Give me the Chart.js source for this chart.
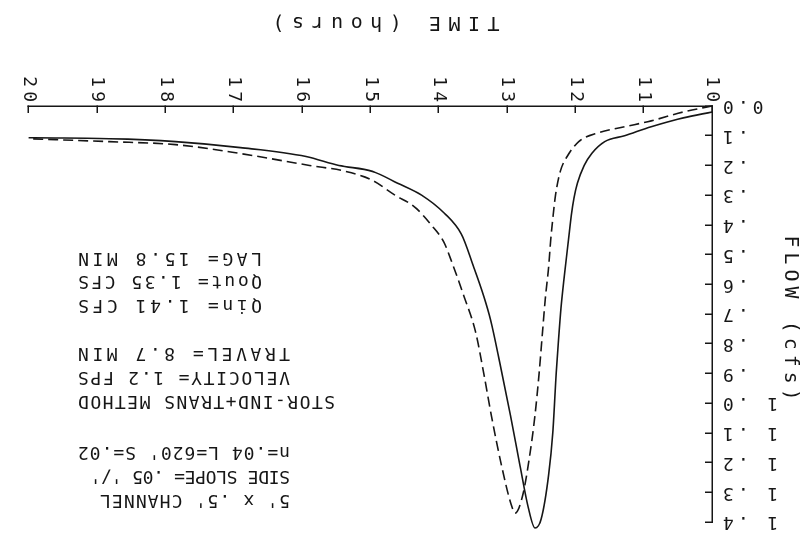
<!DOCTYPE html>
<html>
<head>
<meta charset="utf-8">
<script src="https://cdn.jsdelivr.net/npm/chart.js@4.4.0/dist/chart.umd.min.js"></script>
<style>
  html, body { margin: 0; padding: 0; background: #fff; }
  /* the scanned plot is upside down, so the whole chart is turned over */
  #wrap { width: 809px; height: 540px; transform: rotate(180deg); }
</style>
</head>
<body>
<div id="wrap"><canvas id="hydro"></canvas></div>
<script>
// inflow hydrograph (solid)
const inflowTime = [10.00, 10.42, 10.89, 11.28, 11.57, 11.76, 11.87, 11.97, 12.02, 12.06, 12.10, 12.16,
  12.21, 12.25, 12.28, 12.33, 12.39, 12.50, 12.59, 12.69, 12.81, 12.95, 13.10, 13.24, 13.34, 13.49,
  13.67, 13.92, 14.25, 14.60, 14.97, 15.46, 15.94, 16.90, 17.85, 18.82, 20.00];
const inflowFlow = [0.02, 0.04, 0.07, 0.10, 0.12, 0.16, 0.20, 0.26, 0.31, 0.37, 0.45, 0.57,
  0.68, 0.80, 0.90, 1.10, 1.24, 1.39, 1.42, 1.35, 1.21, 1.04, 0.87, 0.72, 0.64, 0.54,
  0.43, 0.36, 0.30, 0.26, 0.22, 0.20, 0.17, 0.14, 0.12, 0.11, 0.107];

// outflow hydrograph (dashed)
const outflowTime = [10.00, 10.42, 10.89, 11.28, 11.66, 11.95, 12.12, 12.22, 12.29, 12.33, 12.36, 12.39,
  12.44, 12.48, 12.53, 12.59, 12.67, 12.77, 12.88, 12.94, 13.08, 13.23, 13.34, 13.46, 13.63, 13.80,
  13.92, 14.11, 14.35, 14.64, 14.97, 15.36, 15.89, 16.90, 17.85, 18.82, 20.00];
const outflowFlow = [0.00, 0.02, 0.05, 0.07, 0.09, 0.12, 0.17, 0.22, 0.30, 0.38, 0.45, 0.54,
  0.65, 0.76, 0.90, 1.04, 1.18, 1.31, 1.37, 1.34, 1.21, 1.04, 0.90, 0.76, 0.64, 0.53,
  0.46, 0.40, 0.34, 0.30, 0.25, 0.22, 0.20, 0.16, 0.13, 0.12, 0.11];

const timeTicks = ['10', '11', '12', '13', '14', '15', '16', '17', '18', '19', '20'];
const flowTicks = ['0.0', '.1', '.2', '.3', '.4', '.5', '.6', '.7', '.8', '.9',
  '1 .0', '1 .1', '1 .2', '1 .3', '1 .4'];

const notes = [
  "5' x .5' CHANNEL",
  "SIDE SLOPE= .05 '/'",
  "n=.04 L=620' S=.02",
  "STOR-IND+TRANS METHOD",
  "VELOCITY= 1.2 FPS",
  "TRAVEL= 8.7 MIN",
  "Qin= 1.41 CFS",
  "Qout= 1.35 CFS",
  "LAG= 15.8 MIN"
];

const ink = '#161616';
const mono = '"DejaVu Sans Mono", monospace';

function toPoints(xs, ys) {
  return xs.map((x, i) => ({ x: x, y: ys[i] }));
}

// plotter style text: wide letter pitch, titles and the note block
const plotterText = {
  id: 'plotterText',
  beforeDraw(chart) {
    chart.ctx.letterSpacing = '4px';
  },
  afterDraw(chart) {
    const ctx = chart.ctx;
    ctx.save();
    ctx.fillStyle = ink;
    ctx.textBaseline = 'middle';
    ctx.textAlign = 'left';
    ctx.font = '18px ' + mono;
    // each note line is stretched to the width it has on the plot
    const right = [709, 719, 731, 731, 731, 731, 731, 731, 731];
    const span = [190, 200, 212, 257, 212, 212, 184, 184, 184];
    const ny = [40, 64, 88, 139, 163, 187, 235, 259, 282];
    notes.forEach((s, i) => {
      ctx.letterSpacing = '0px';
      const w = ctx.measureText(s).width;
      ctx.letterSpacing = ((span[i] - w) / (s.length - 1)).toFixed(2) + 'px';
      ctx.fillText(s, right[i] - span[i], ny[i]);
    });

    ctx.font = '20px ' + mono;
    ctx.textAlign = 'left';
    ctx.letterSpacing = '7.5px';
    ctx.fillText('TIME (hours)', 423 - 227 / 2, 518);
    ctx.letterSpacing = '5px';
    ctx.translate(19, 222 + 165 / 2);
    ctx.rotate(-Math.PI / 2);
    ctx.fillText('FLOW (cfs)', 0, 0);
    ctx.restore();
  }
};

new Chart(document.getElementById('hydro'), {
  type: 'line',
  data: {
    datasets: [
      {
        label: 'Qin',
        data: toPoints(inflowTime, inflowFlow),
        borderColor: ink,
        borderWidth: 1.6,
        cubicInterpolationMode: 'monotone',
        clip: false
      },
      {
        label: 'Qout',
        data: toPoints(outflowTime, outflowFlow),
        borderColor: ink,
        borderWidth: 1.6,
        borderDash: [10, 5],
        cubicInterpolationMode: 'monotone',
        clip: false
      }
    ]
  },
  options: {
    responsive: true,
    maintainAspectRatio: false,
    animation: false,
    layout: { padding: { top: 18, right: 18, left: 0, bottom: 0 } },
    elements: { point: { radius: 0 } },
    plugins: {
      legend: { display: false },
      tooltip: { enabled: false }
    },
    scales: {
      x: {
        type: 'linear',
        min: 10,
        max: 20,
        ticks: {
          stepSize: 1,
          autoSkip: false,
          minRotation: 90,
          maxRotation: 90,
          padding: 7,
          color: ink,
          font: { family: mono, size: 18 },
          callback: (v, i) => timeTicks[i]
        },
        grid: { drawOnChartArea: false, tickLength: -7, color: ink, lineWidth: 1.5 },
        border: { color: ink, width: 1.5 },
        afterFit: (s) => { s.height = 106; }
      },
      y: {
        min: 0,
        max: 1.4,
        ticks: {
          stepSize: 0.1,
          autoSkip: false,
          padding: 14,
          color: ink,
          font: { family: mono, size: 18 },
          callback: (v, i) => flowTicks[i]
        },
        grid: { drawOnChartArea: false, tickLength: -7, color: ink, lineWidth: 1.5 },
        border: { color: ink, width: 1.5 },
        afterFit: (s) => { s.width = 97; s.paddingTop = 0; }
      }
    }
  },
  plugins: [plotterText]
});
</script>
</body>
</html>
